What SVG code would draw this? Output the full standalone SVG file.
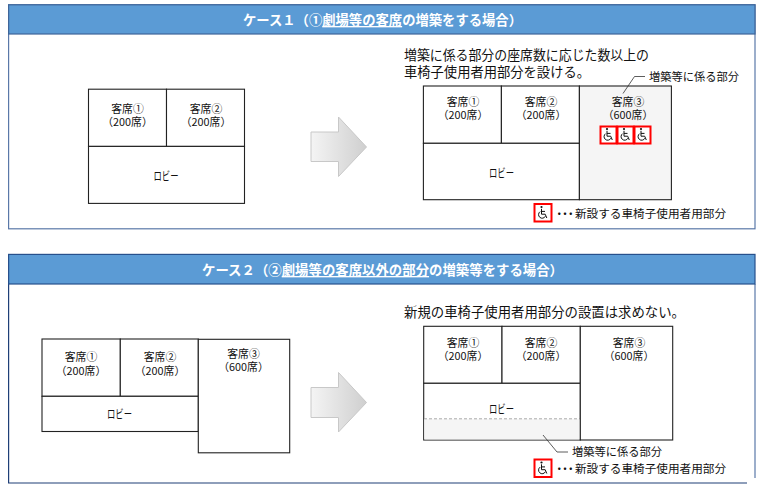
<svg xmlns="http://www.w3.org/2000/svg" width="758" height="490" viewBox="0 0 758 490">
<style>
text{font-family:"Noto Sans CJK JP","Noto Sans",sans-serif;fill:#111}
.panel{fill:#fff;stroke-width:1.2}
.hd{fill:#5b9bd5;stroke-width:1.2}
.title{font-size:13.5px;font-weight:700;fill:#fff}
.room{fill:#fff;stroke:#222;stroke-width:1.1}
.add{fill:#f5f5f5}
.lbl{font-size:10.8px;text-anchor:middle}
.lob{font-size:12px}
.note{font-size:13.5px}
.small{font-size:11.5px}
.lead{fill:none;stroke:#333;stroke-width:.8}
.box{fill:#fff;stroke:#f00;stroke-width:2}
.arrow{fill:url(#g);stroke:#c8c8c8;stroke-width:1}
</style>
<defs>
<linearGradient id="g" x1="0" x2="1" y1="0" y2="0"><stop offset="0" stop-color="#f4f4f4"/><stop offset="1" stop-color="#cfcfcf"/></linearGradient>
<g id="wc"><circle cx="-1.500" cy="-6" r="1.100" fill="#111"/><path d="M-1.500 -4.200V1.200H2.200L3.800 5M-1.500 -1.600H2M-2.800 -1.400A3.600 3.600 0 1 0 2.400 3.200" fill="none" stroke="#111" stroke-width="1"/></g>
</defs>

<g id="panel1">
<rect class="panel" x="8.600" y="4.800" width="746.400" height="224" stroke="#5a78a8"/>
<rect class="hd" x="8.600" y="4.800" width="746.400" height="29.200" stroke="#3f6599"/>
<text class="title" x="243" y="25" textLength="279" lengthAdjust="spacingAndGlyphs">ケース&#xFF11;&#xFF08;①<tspan text-decoration="underline">劇場等の客席</tspan>の増築をする場合&#xFF09;</text>
</g>

<g id="c1-before">
<rect class="room" x="88.500" y="89.200" width="78" height="57.200"/>
<rect class="room" x="166.500" y="89.200" width="78" height="57.200"/>
<rect class="room" x="88.500" y="146.400" width="156" height="57"/>
<text class="lbl"><tspan x="127.500" y="112.700">客席①</tspan><tspan x="127.500" y="125.500">&#xFF08;200席&#xFF09;</tspan></text>
<text class="lbl"><tspan x="206" y="112.700">客席②</tspan><tspan x="206" y="125.500">&#xFF08;200席&#xFF09;</tspan></text>
<text class="lob" x="153.500" y="181" textLength="25" lengthAdjust="spacingAndGlyphs">ロビー</text>
</g>

<path id="arrow1" class="arrow" d="M311 132H338.500V117L366.500 147L338.500 176.500V161.500H311Z"/>

<g id="c1-after">
<text class="note" x="404" y="60" textLength="245" lengthAdjust="spacingAndGlyphs">増築に係る部分の座席数に応じた数以上の</text>
<text class="note" x="404" y="77" textLength="186" lengthAdjust="spacingAndGlyphs">車椅子使用者用部分を設ける。</text>
<rect class="room" x="423.400" y="86" width="78" height="57.300"/>
<rect class="room" x="501.400" y="86" width="78" height="57.300"/>
<rect class="room" x="423.400" y="143.300" width="156" height="56.400"/>
<rect class="room add" x="579.400" y="86" width="92" height="113.700" stroke="#666"/>
<text class="lbl"><tspan x="463" y="106">客席①</tspan><tspan x="463" y="119">&#xFF08;200席&#xFF09;</tspan></text>
<text class="lbl"><tspan x="541" y="106">客席②</tspan><tspan x="541" y="119">&#xFF08;200席&#xFF09;</tspan></text>
<text class="lbl"><tspan x="628" y="106">客席③</tspan><tspan x="628" y="119">&#xFF08;600席&#xFF09;</tspan></text>
<text class="lob" x="489" y="178" textLength="25" lengthAdjust="spacingAndGlyphs">ロビー</text>
<path class="lead" d="M623 93.500L634.500 76.500H645"/>
<text class="small" x="649" y="81" textLength="90" lengthAdjust="spacingAndGlyphs">増築等に係る部分</text>
<rect class="box" x="600.500" y="126.500" width="16" height="17"/><use href="#wc" x="608.500" y="135"/>
<rect class="box" x="617.500" y="126.500" width="16" height="17"/><use href="#wc" x="625.500" y="135"/>
<rect class="box" x="634.500" y="126.500" width="16" height="17"/><use href="#wc" x="642.500" y="135"/>
<rect class="box" x="534.500" y="204" width="17" height="17.500"/><use href="#wc" x="543" y="213"/>
<text class="small" x="553.500" y="218" textLength="23" lengthAdjust="spacing">・・・</text>
<text class="small" x="575" y="218" textLength="151" lengthAdjust="spacingAndGlyphs">新設する車椅子使用者用部分</text>
</g>

<g id="panel2">
<path class="panel" d="M8.600 284V483H747" stroke="#1f3f77"/>
<path d="M755 284V478" stroke="#5a78a8" stroke-width="1.200" fill="none"/>
<rect class="hd" x="8.600" y="254.400" width="746.400" height="29.600" stroke="#27508c"/>
<text class="title" x="202" y="275" textLength="361" lengthAdjust="spacingAndGlyphs">ケース&#xFF12;&#xFF08;②<tspan text-decoration="underline">劇場等の客席以外の部分</tspan>の増築等をする場合&#xFF09;</text>
</g>

<g id="c2-before">
<rect class="room" x="42" y="339" width="78.300" height="57.300"/>
<rect class="room" x="120.300" y="339" width="78" height="57.300"/>
<rect class="room" x="42" y="396.300" width="156.300" height="35.200"/>
<rect class="room" x="198.300" y="339.300" width="91.400" height="113.500"/>
<text class="lbl"><tspan x="81" y="361">客席①</tspan><tspan x="81" y="374.500">&#xFF08;200席&#xFF09;</tspan></text>
<text class="lbl"><tspan x="160" y="361">客席②</tspan><tspan x="160" y="374.500">&#xFF08;200席&#xFF09;</tspan></text>
<text class="lbl"><tspan x="243.500" y="358">客席③</tspan><tspan x="243.500" y="371">&#xFF08;600席&#xFF09;</tspan></text>
<text class="lob" x="107" y="419" textLength="25" lengthAdjust="spacingAndGlyphs">ロビー</text>
</g>

<path id="arrow2" class="arrow" d="M311 387.500H338.500V372.500L366.500 402.500L338.500 432V417.500H311Z"/>

<g id="c2-after">
<text class="note" x="404" y="317" textLength="281" lengthAdjust="spacingAndGlyphs">新規の車椅子使用者用部分の設置は求めない。</text>
<rect class="room" x="423.700" y="326.300" width="78.300" height="57"/>
<rect class="room" x="502" y="326.300" width="78.300" height="57"/>
<rect class="room" x="423.700" y="383.300" width="156.600" height="56.700"/>
<rect class="add" x="424.300" y="419" width="155.400" height="20.500"/>
<path d="M424 418.800H580" stroke="#aaa" stroke-width="1" stroke-dasharray="3 2" fill="none"/>
<rect class="room" x="580.300" y="326.300" width="92.400" height="113.700"/>
<text class="lbl"><tspan x="463" y="346.500">客席①</tspan><tspan x="463" y="359.500">&#xFF08;200席&#xFF09;</tspan></text>
<text class="lbl"><tspan x="541" y="346.500">客席②</tspan><tspan x="541" y="359.500">&#xFF08;200席&#xFF09;</tspan></text>
<text class="lbl"><tspan x="629" y="346.500">客席③</tspan><tspan x="629" y="359.500">&#xFF08;600席&#xFF09;</tspan></text>
<text class="lob" x="489" y="414" textLength="25" lengthAdjust="spacingAndGlyphs">ロビー</text>
<path class="lead" d="M543 435L557 452H568"/>
<text class="small" x="572" y="456" textLength="90" lengthAdjust="spacingAndGlyphs">増築等に係る部分</text>
<rect class="box" x="534.500" y="459.500" width="17" height="17.500"/><use href="#wc" x="543" y="468.500"/>
<text class="small" x="553.500" y="473" textLength="23" lengthAdjust="spacing">・・・</text>
<text class="small" x="575" y="473" textLength="151" lengthAdjust="spacingAndGlyphs">新設する車椅子使用者用部分</text>
</g>
</svg>
